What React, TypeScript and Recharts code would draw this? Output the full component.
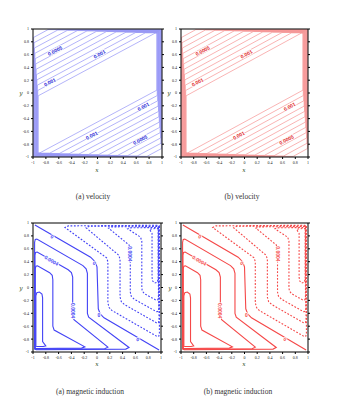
import { ComposedChart, Line, Scatter, XAxis, YAxis } from "recharts";

type P = [number, number];

const TICKS = [-1, -0.8, -0.6, -0.4, -0.2, 0, 0.2, 0.4, 0.6, 0.8, 1];

// velocity contours, innermost (near core) to outermost (near walls)
const VEL_CONTOURS: P[][] = [
  [[-0.92, -0.935], [-0.92, -0.044], [0.893, 0.935], [0.92, 0.935], [0.92, 0.044], [-0.893, -0.935]],
  [[-0.926, -0.94], [-0.926, 0.04], [0.741, 0.94], [0.926, 0.94], [0.926, -0.04], [-0.741, -0.94]],
  [[-0.933, -0.945], [-0.933, 0.122], [0.591, 0.945], [0.933, 0.945], [0.933, -0.122], [-0.591, -0.945]],
  [[-0.939, -0.95], [-0.939, 0.205], [0.441, 0.95], [0.939, 0.95], [0.939, -0.205], [-0.441, -0.95]],
  [[-0.946, -0.955], [-0.946, 0.288], [0.289, 0.955], [0.946, 0.955], [0.946, -0.288], [-0.289, -0.955]],
  [[-0.952, -0.96], [-0.952, 0.371], [0.139, 0.96], [0.952, 0.96], [0.952, -0.371], [-0.139, -0.96]],
  [[-0.958, -0.965], [-0.958, 0.455], [-0.013, 0.965], [0.958, 0.965], [0.958, -0.455], [0.013, -0.965]],
  [[-0.965, -0.97], [-0.965, 0.537], [-0.163, 0.97], [0.965, 0.97], [0.965, -0.537], [0.163, -0.97]],
  [[-0.971, -0.975], [-0.971, 0.62], [-0.313, 0.975], [0.971, 0.975], [0.971, -0.62], [0.313, -0.975]],
  [[-0.978, -0.98], [-0.978, 0.703], [-0.465, 0.98], [0.978, 0.98], [0.978, -0.703], [0.465, -0.98]],
  [[-0.984, -0.985], [-0.984, 0.786], [-0.615, 0.985], [0.984, 0.985], [0.984, -0.786], [0.615, -0.985]],
  [[-0.99, -0.99], [-0.99, 0.869], [-0.767, 0.99], [0.99, 0.99], [0.99, -0.869], [0.767, -0.99]],
];

const VEL_LABELS = [
  { x: -0.66, y: 0.66, t: "0.0005", a: -28 },
  { x: -0.74, y: 0.17, t: "0.001", a: -28 },
  { x: 0.03, y: 0.61, t: "0.001", a: -28 },
  { x: 0.71, y: -0.21, t: "0.001", a: -28 },
  { x: -0.09, y: -0.66, t: "0.001", a: -28 },
  { x: 0.66, y: -0.73, t: "0.0005", a: -28 },
];

// magnetic induction: zero line (open)
const MAG_ZERO: P[] = [
  [-0.97, 0.97], [-0.1, 0.47], [-0.03, 0.4], [0.0, 0.32], [0.02, -0.33],
  [0.05, -0.41], [0.11, -0.47], [0.97, -0.97],
];

// positive loops (solid), innermost first
const MAG_POS: P[][] = [
  [[-0.955, -0.91], [-0.955, -0.13], [-0.94, -0.08], [-0.9, -0.07], [-0.86, -0.1], [-0.85, -0.16],
    [-0.85, -0.84], [-0.8, -0.905], [-0.84, -0.915], [-0.93, -0.915]],
  [[-0.965, -0.945], [-0.965, 0.29], [-0.955, 0.33], [-0.93, 0.335], [-0.74, 0.23], [-0.7, 0.19],
    [-0.69, 0.12], [-0.69, -0.6], [-0.67, -0.66], [-0.19, -0.92], [-0.24, -0.94], [-0.94, -0.945]],
  [[-0.97, -0.955], [-0.97, 0.5], [-0.96, 0.545], [-0.935, 0.55], [-0.45, 0.275], [-0.4, 0.23],
    [-0.38, 0.16], [-0.38, -0.44], [-0.36, -0.5], [0.17, -0.925], [0.12, -0.95], [-0.945, -0.955]],
  [[-0.975, -0.95], [-0.975, 0.7], [-0.965, 0.745], [-0.94, 0.75], [-0.22, 0.34], [-0.17, 0.29],
    [-0.15, 0.22], [-0.15, -0.4], [-0.13, -0.46], [0.5, -0.93], [0.45, -0.955], [-0.95, -0.965]],
];

// negative loops (dashed), innermost first
const MAG_NEG: P[][] = [
  [[0.955, 0.91], [0.955, 0.13], [0.94, 0.08], [0.9, 0.07], [0.87, 0.1], [0.86, 0.16],
    [0.86, 0.84], [0.82, 0.9], [0.86, 0.91], [0.93, 0.915]],
  [[0.96, 0.935], [0.96, -0.15], [0.95, -0.19], [0.92, -0.195], [0.74, -0.095], [0.705, -0.05],
    [0.7, 0.02], [0.7, 0.72], [0.68, 0.78], [0.48, 0.91], [0.52, 0.925], [0.94, 0.93]],
  [[0.965, 0.945], [0.965, -0.33], [0.955, -0.37], [0.93, -0.375], [0.58, -0.18], [0.535, -0.135],
    [0.52, -0.07], [0.52, 0.6], [0.5, 0.66], [0.18, 0.92], [0.23, 0.94], [0.94, 0.945]],
  [[0.97, 0.955], [0.97, -0.5], [0.96, -0.545], [0.935, -0.55], [0.43, -0.265], [0.38, -0.22],
    [0.36, -0.15], [0.36, 0.44], [0.34, 0.5], [-0.17, 0.925], [-0.12, 0.95], [0.945, 0.955]],
  [[0.975, 0.95], [0.975, -0.72], [0.965, -0.755], [0.94, -0.76], [0.23, -0.355], [0.19, -0.31],
    [0.17, -0.24], [0.17, 0.4], [0.15, 0.46], [-0.5, 0.93], [-0.45, 0.955], [0.95, 0.965]],
];

const MAG_LABELS = [
  { x: -0.7, y: 0.79, t: "0", a: 30 },
  { x: -0.71, y: 0.42, t: "0.0004", a: 30 },
  { x: -0.04, y: 0.38, t: "0", a: 30 },
  { x: -0.38, y: -0.36, t: "0.0004", a: 90 },
  { x: 0.03, y: -0.42, t: "0", a: 0 },
  { x: 0.64, y: -0.8, t: "0", a: 30 },
  { x: 0.52, y: 0.52, t: "0.0004", a: 90 },
];

const rows = (pts: P[]) => pts.map(([x, y]) => ({ x, y }));

function textMark(color: string) {
  return (props: any) => {
    const { cx, cy, payload } = props;
    return (
      <text
        x={cx}
        y={cy}
        transform={`rotate(${payload.a} ${cx} ${cy})`}
        textAnchor="middle"
        dominantBaseline="central"
        fontSize={5}
        fontWeight={700}
        fontFamily="Arial, sans-serif"
        fill={color}
        stroke="#fff"
        strokeWidth={1.6}
        paintOrder="stroke"
      >
        {payload.t}
      </text>
    );
  };
}

// mirror axes on top/right: tick marks only, labels blanked
const blank = () => "";

function axes() {
  return [
    <XAxis key="xb" dataKey="x" type="number" domain={[-1, 1]} ticks={TICKS} allowDataOverflow
      interval={0} height={12} tickSize={2} stroke="#000" tick={{ fontSize: 4, fill: "#222" }} />,
    <XAxis key="xt" xAxisId="top" orientation="top" type="number" domain={[-1, 1]} ticks={TICKS}
      allowDataOverflow interval={0} height={4} tickSize={2} stroke="#000"
      tick={{ fontSize: 1, fill: "none" }} tickFormatter={blank} />,
    <YAxis key="yl" dataKey="y" type="number" domain={[-1, 1]} ticks={TICKS} allowDataOverflow
      interval={0} width={22} tickSize={2} stroke="#000" tick={{ fontSize: 4, fill: "#222" }} />,
    <YAxis key="yr" yAxisId="right" orientation="right" type="number" domain={[-1, 1]} ticks={TICKS}
      allowDataOverflow interval={0} width={4} tickSize={2} stroke="#000"
      tick={{ fontSize: 1, fill: "none" }} tickFormatter={blank} />,
  ];
}

function VelocityPanel({ left, top, w, h, line, label }: any) {
  return (
    <div style={{ position: "absolute", left: left - 25, top: top - 8 }}>
      <ComposedChart width={w + 32} height={h + 24} margin={{ top: 4, right: 3, bottom: 4, left: 3 }}>
        {axes()}
        {VEL_CONTOURS.map((c, i) => (
          <Line key={"v" + i} data={rows(c)} dataKey="y" type="linearClosed" stroke={line}
            strokeWidth={0.7} dot={false} activeDot={false} isAnimationActive={false} />
        ))}
        <Scatter data={VEL_LABELS} dataKey="y" shape={textMark(label)} isAnimationActive={false} />
      </ComposedChart>
    </div>
  );
}

function MagneticPanel({ left, top, w, h, line }: any) {
  return (
    <div style={{ position: "absolute", left: left - 25, top: top - 8 }}>
      <ComposedChart width={w + 32} height={h + 24} margin={{ top: 4, right: 3, bottom: 4, left: 3 }}>
        {axes()}
        {MAG_POS.map((c, i) => (
          <Line key={"p" + i} data={rows(c)} dataKey="y" type="linearClosed" stroke={line}
            strokeWidth={1.1} dot={false} activeDot={false} isAnimationActive={false} />
        ))}
        {MAG_NEG.map((c, i) => (
          <Line key={"n" + i} data={rows(c)} dataKey="y" type="linearClosed" stroke={line}
            strokeWidth={1.1} strokeDasharray="1.8 1.6" dot={false} activeDot={false} isAnimationActive={false} />
        ))}
        <Line data={rows(MAG_ZERO)} dataKey="y" type="linear" stroke={line} strokeWidth={1.1}
          dot={false} activeDot={false} isAnimationActive={false} />
        <Scatter data={MAG_LABELS} dataKey="y" shape={textMark(line)} isAnimationActive={false} />
      </ComposedChart>
    </div>
  );
}

const axisTitle: React.CSSProperties = {
  position: "absolute",
  fontFamily: "'DejaVu Serif', serif",
  fontStyle: "italic",
  fontSize: 6,
  color: "#2e4d22",
  transform: "translate(-50%, -50%)",
  lineHeight: 1,
};

const caption: React.CSSProperties = {
  position: "absolute",
  fontFamily: "'Liberation Serif', 'Times New Roman', serif",
  fontSize: 7.5,
  color: "#333",
  transform: "translate(-50%, -50%)",
  whiteSpace: "nowrap",
  lineHeight: 1,
};

export default function App() {
  return (
    <div style={{ position: "absolute", left: 0, top: 0, width: 340, height: 416, background: "#fff", overflow: "hidden" }}>
      <VelocityPanel left={33} top={29} w={129} h={128} line="#9494f6" label="#2424d6" />
      <VelocityPanel left={181} top={29} w={127} h={128} line="#f69494" label="#e01e1e" />
      <MagneticPanel left={33} top={223} w={128} h={129} line="#4343f5" />
      <MagneticPanel left={181} top={223} w={127} h={129} line="#f54848" />

      <div style={{ ...axisTitle, left: 97, top: 170 }}>x</div>
      <div style={{ ...axisTitle, left: 244, top: 170 }}>x</div>
      <div style={{ ...axisTitle, left: 97, top: 364 }}>x</div>
      <div style={{ ...axisTitle, left: 244, top: 364 }}>x</div>
      <div style={{ ...axisTitle, left: 21, top: 93 }}>y</div>
      <div style={{ ...axisTitle, left: 169, top: 93 }}>y</div>
      <div style={{ ...axisTitle, left: 21, top: 288 }}>y</div>
      <div style={{ ...axisTitle, left: 170, top: 288 }}>y</div>

      <div style={{ ...caption, left: 93, top: 197 }}>(a) velocity</div>
      <div style={{ ...caption, left: 242, top: 197 }}>(b) velocity</div>
      <div style={{ ...caption, left: 90, top: 392 }}>(a) magnetic induction</div>
      <div style={{ ...caption, left: 238, top: 392 }}>(b) magnetic induction</div>
    </div>
  );
}
